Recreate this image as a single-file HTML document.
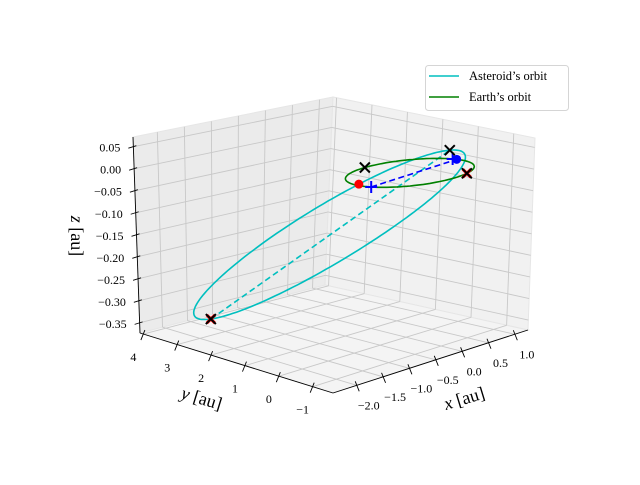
<!DOCTYPE html>
<html><head><meta charset="utf-8"><style>
html,body{margin:0;padding:0;background:#fff;}
svg text{font-family:"Liberation Serif",serif;}
</style></head><body>
<svg id="chart" width="640" height="480" viewBox="0 0 640 480" xmlns="http://www.w3.org/2000/svg">
<g id="panes"></g>
<g id="grid"></g>
<g id="axes"></g>
<g id="series"></g>
<g id="markers"></g>
<text transform="translate(71,236) rotate(90)" font-size="18" text-anchor="middle"><tspan font-style="italic">z</tspan> [au]</text>
<text transform="translate(200,404) rotate(17)" font-size="18" text-anchor="middle"><tspan font-style="italic">y</tspan> [au]</text>
<text transform="translate(466,404) rotate(-17)" font-size="18" text-anchor="middle"><tspan font-style="italic">x</tspan> [au]</text>
<g>
<rect x="425.5" y="65.5" width="143" height="45" rx="3" fill="#fff" fill-opacity="0.8" stroke="#d5d5d5"/>
<line x1="429" y1="76" x2="459" y2="76" stroke="#00bfbf" stroke-width="1.6"/>
<text x="469" y="80" font-size="12.5">Asteroid’s orbit</text>
<line x1="429" y1="97" x2="459" y2="97" stroke="#008000" stroke-width="1.6"/>
<text x="469" y="101" font-size="12.5">Earth’s orbit</text>
</g>
</svg>
<script>
const xTicks=[-2.0,-1.5,-1.0,-0.5,0.0,0.5,1.0];
const yTicks=[-1,0,1,2,3,4];
const zTicks=[0.05,0.00,-0.05,-0.10,-0.15,-0.20,-0.25,-0.30,-0.35];
const xLim=[-2.45,1.25];
const yLim=[-1.6,4.1];
const zLim=[-0.373,0.072];
// asteroid orbit (3D): centre, semi-major vector, semi-minor vector [au]
const asteroidCenter=[-0.66,1.32,-0.148];
const asteroidSemiMajor=[1.04,-2.22,0.20];
const asteroidSemiMinor=[0.754,0.352,-0.068];
const earthRadius=[1.0];
// marker positions: earth angles (deg), asteroid eccentric anomalies (deg)
const earthBlackX=[101,-61];
const earthRedX=[-61];
const earthBluePlus=[200,15];
const earthBlueDot=[10];
const asteroidRedDot=[-65];
const asteroidBlackX=[-16,162];
const asteroidRedX=[162];
const asteroidDashEnds=[162,-16];

const C={ '000':[333,393],'100':[528,330],'010':[140,333],'110':[325,285],
          '001':[334,182],'101':[535,138],'011':[133,137],'111':[333,97]};
function lerp(a,b,t){return [a[0]+(b[0]-a[0])*t,a[1]+(b[1]-a[1])*t];}
function proj(x,y,z){
  const u=(x-xLim[0])/(xLim[1]-xLim[0]),v=(y-yLim[0])/(yLim[1]-yLim[0]),w=(z-zLim[0])/(zLim[1]-zLim[0]);
  const b=lerp(lerp(C['000'],C['100'],u),lerp(C['010'],C['110'],u),v);
  const t=lerp(lerp(C['001'],C['101'],u),lerp(C['011'],C['111'],u),v);
  return lerp(b,t,w);
}
const NS='http://www.w3.org/2000/svg';
function mk(parent,tag,attrs){const e=document.createElementNS(NS,tag);for(const k in attrs)e.setAttribute(k,attrs[k]);document.getElementById(parent).appendChild(e);return e;}
function pts(arr){return arr.map(p=>p[0].toFixed(1)+','+p[1].toFixed(1)).join(' ');}
const X0=xLim[0],X1=xLim[1],Y0=yLim[0],Y1=yLim[1],Z0=zLim[0],Z1=zLim[1];
let e;
e=mk('panes','polygon',{points:pts([proj(X0,Y1,Z0),proj(X1,Y1,Z0),proj(X1,Y1,Z1),proj(X0,Y1,Z1)]),fill:'#ebebeb',stroke:'#e6e6e6'});


e=mk('panes','polygon',{points:pts([proj(X1,Y0,Z0),proj(X1,Y1,Z0),proj(X1,Y1,Z1),proj(X1,Y0,Z1)]),fill:'#f1f1f1',stroke:'#e6e6e6'});


e=mk('panes','polygon',{points:pts([proj(X0,Y0,Z0),proj(X1,Y0,Z0),proj(X1,Y1,Z0),proj(X0,Y1,Z0)]),fill:'#f4f4f4',stroke:'#e6e6e6'});


function gl(a,b){const l=mk('grid','line',{x1:a[0],y1:a[1],x2:b[0],y2:b[1],stroke:'#c8c8c8','stroke-width':0.9});

}
xTicks.forEach(x=>{gl(proj(x,Y1,Z0),proj(x,Y1,Z1));gl(proj(x,Y0,Z0),proj(x,Y1,Z0));});
yTicks.forEach(y=>{gl(proj(X1,y,Z0),proj(X1,y,Z1));gl(proj(X0,y,Z0),proj(X1,y,Z0));});
zTicks.forEach(z=>{gl(proj(X0,Y1,z),proj(X1,Y1,z));gl(proj(X1,Y1,z),proj(X1,Y0,z));});
function al(a,b,name){const l=mk('axes','line',{x1:a[0],y1:a[1],x2:b[0],y2:b[1],stroke:'#000','stroke-width':0.9});

}
al(proj(X0,Y0,Z0),proj(X1,Y0,Z0),'x-axis-line');
al(proj(X0,Y0,Z0),proj(X0,Y1,Z0),'y-axis-line');
al(proj(X0,Y1,Z0),proj(X0,Y1,Z1),'z-axis-line');
function fmt(v,d){const s=Math.abs(v).toFixed(d);return (v<-1e-9?'\u2212':'')+s;}
function tl(x,y,txt,name,anchor){const t=mk('axes','text',{x:x,y:y,'font-size':12,'text-anchor':anchor||'middle'});t.textContent=txt;

}
xTicks.forEach(x=>{const p=proj(x,Y0,Z0);al([p[0]-1.5,p[1]-4],[p[0]+2.5,p[1]+6],'x-tick');tl(p[0]+12,p[1]+24,fmt(x,1),'x-tick-label');});
yTicks.forEach(y=>{const p=proj(X0,y,Z0);al([p[0]+1.5,p[1]-4],[p[0]-2.5,p[1]+6],'y-tick');tl(p[0]-10,p[1]+27,fmt(y,0),'y-tick-label');});
zTicks.forEach(z=>{const p=proj(X0,Y1,z);al([p[0]+3,p[1]-1],[p[0]-5,p[1]+1.5],'z-tick');tl(p[0]-13,p[1]+5,fmt(z,2),'z-tick-label','end');});
function earth(deg){const a=deg*Math.PI/180;return proj(earthRadius[0]*Math.cos(a),earthRadius[0]*Math.sin(a),0);}
const ep=[];for(let d=0;d<=360;d+=3)ep.push(earth(d));
function ast(deg){const E=deg*Math.PI/180,c=Math.cos(E),s=Math.sin(E);
  const P=[0,1,2].map(i=>asteroidCenter[i]+c*asteroidSemiMajor[i]+s*asteroidSemiMinor[i]);
  return proj(P[0],P[1],P[2]);}
const ap=[];for(let d=0;d<=360;d+=2)ap.push(ast(d));
e=mk('series','polyline',{points:pts(ap),fill:'none',stroke:'#00bfbf','stroke-width':1.6});


e=mk('series','polyline',{points:pts(asteroidDashEnds.map(ast)),fill:'none',stroke:'#00bfbf','stroke-width':1.6,'stroke-dasharray':'6,3.5'});


e=mk('series','polyline',{points:pts(ep),fill:'none',stroke:'#008000','stroke-width':1.6});


e=mk('series','polyline',{points:pts([earth(earthBluePlus[0]),earth(earthBlueDot[0])]),fill:'none',stroke:'#0000ff','stroke-width':1.6,'stroke-dasharray':'6,3.5'});


function dot(p,col,name){const c=mk('markers','circle',{cx:p[0],cy:p[1],r:4.5,fill:col});

}
function cross(p,col,w,sz,name){const g=mk('markers','path',{d:`M${p[0]-sz},${p[1]-sz}L${p[0]+sz},${p[1]+sz}M${p[0]-sz},${p[1]+sz}L${p[0]+sz},${p[1]-sz}`,stroke:col,'stroke-width':w,fill:'none'});

}
function plus(p,col,name){const g=mk('markers','path',{d:`M${p[0]-6},${p[1]}L${p[0]+6},${p[1]}M${p[0]},${p[1]-6}L${p[0]},${p[1]+6}`,stroke:col,'stroke-width':2,fill:'none'});

}
asteroidRedX.forEach(d=>cross(ast(d),'#ff0000',3,4,'asteroid-red-x'));
earthRedX.forEach(d=>cross(earth(d),'#ff0000',3,4,'earth-red-x'));
asteroidRedDot.forEach(d=>dot(ast(d),'#ff0000','asteroid-position'));
earthBlueDot.forEach(d=>dot(earth(d),'#0000ff','earth-position'));
earthBluePlus.forEach(d=>plus(earth(d),'#0000ff','earth-plus'));
earthBlackX.forEach(d=>cross(earth(d),'#000',2,5,'earth-black-x'));
asteroidBlackX.forEach(d=>cross(ast(d),'#000',2,5,'asteroid-black-x'));
</script>
</body></html>
